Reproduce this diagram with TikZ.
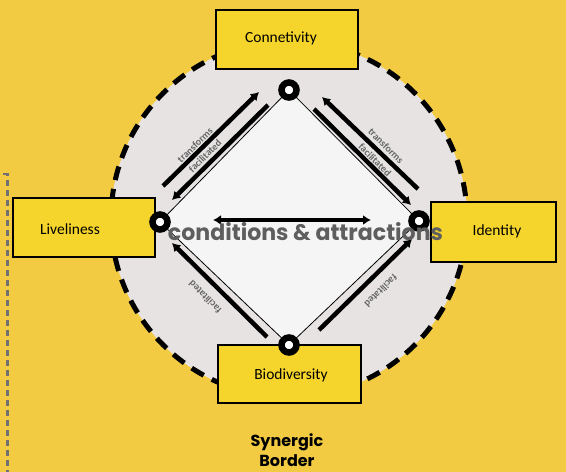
\documentclass[tikz,border=0pt]{standalone}
\usepackage{fontspec}
\setmainfont{Carlito}
\newfontfamily\geofont{Poppins}
\usepackage{xcolor}
\definecolor{bgYellow}{HTML}{F2CB43}
\definecolor{boxYellow}{HTML}{F5D52B}
\definecolor{zoneGray}{HTML}{E7E3E3}
\definecolor{coreFill}{HTML}{F5F5F5}
\definecolor{bigGray}{HTML}{5E5E5E}
\definecolor{tagGray}{HTML}{666666}
\definecolor{edgeGray}{HTML}{707070}
\usepackage{tikz}
\usetikzlibrary{arrows.meta,calc}
\tikzstyle{stage}=[draw=black, line width=2.5pt, fill=boxYellow, inner sep=0pt]
\tikzstyle{stagetext}=[font=\fontsize{15.5}{17}\selectfont, inner sep=0pt]
\tikzstyle{ring}=[circle, draw=black, line width=6.5pt, fill=white, minimum size=15pt, inner sep=0pt]
\tikzstyle{flow}=[line width=4.5pt, -{Latex[length=8pt,width=10pt]}]
\tikzstyle{tag}=[font=\bfseries\fontsize{10}{11}\selectfont, text=tagGray, inner sep=0pt]

\begin{document}
\begin{tikzpicture}[x=1pt,y=-1pt]
        \useasboundingbox[fill=bgYellow] (0,0) rectangle (566,472);
        % border line on the left
        \coordinate (edgeA) at (3,174);
        \coordinate (edgeB) at (7.5,174);
        \coordinate (edgeC) at (7.5,472);
        \draw[edgeGray, line width=2.5pt, dash pattern=on 6pt off 4pt] (edgeA) -- (edgeB) -- (edgeC);
        % zone and core
        \coordinate (hub) at (289,219);
        \draw[fill=zoneGray, line width=5pt, dash pattern=on 14pt off 9pt] (hub) circle[radius=178pt];
        \coordinate (ptop) at (289,90);
        \coordinate (pleft) at (160,222);
        \coordinate (pright) at (419,221);
        \coordinate (pbot) at (289,345);
        \draw[fill=coreFill, line width=0.8pt] (ptop) -- (pright) -- (pbot) -- (pleft) -- cycle;
        % stages
        \node[stage, minimum width=142pt, minimum height=59pt] (connBox) at (287,39.5) {};
        \node[stagetext] (connTxt) at (281,38) {Connetivity};
        \node[stage, minimum width=142pt, minimum height=59pt] (liveBox) at (84,227.5) {};
        \node[stagetext] (liveTxt) at (70,229) {Liveliness};
        \node[stage, minimum width=125pt, minimum height=60pt] (idenBox) at (493.5,232) {};
        \node[stagetext] (idenTxt) at (497,231) {Identity};
        \node[stage, minimum width=143pt, minimum height=58pt] (bioBox) at (289.5,374) {};
        \node[stagetext] (bioTxt) at (291,375) {Biodiversity};
        % corners
        \foreach \n/\p in {vtop/ptop,vleft/pleft,vright/pright,vbot/pbot}{
          \node[ring] (\n) at (\p) {};
        }
        % flows along the edges
        \coordinate (tlA) at (163,186);   \coordinate (tlB) at (259,92);
        \coordinate (tlC) at (268,105);   \coordinate (tlD) at (172,200);
        \coordinate (trA) at (418,189);   \coordinate (trB) at (322,97);
        \coordinate (trC) at (314,109);   \coordinate (trD) at (411,205);
        \coordinate (blA) at (267,337);   \coordinate (blB) at (172,243);
        \coordinate (brA) at (319,330);   \coordinate (brB) at (412,239);
        \draw[flow] (tlA) -- (tlB);
        \draw[flow] (tlC) -- (tlD);
        \draw[flow] (trA) -- (trB);
        \draw[flow] (trC) -- (trD);
        \draw[flow] (blA) -- (blB);
        \draw[flow] (brA) -- (brB);
        \node[tag, rotate=45] (tlTop) at (195,145) {transforms};
        \node[tag, rotate=45] (tlLow) at (205,156) {facilitated};
        \node[tag, rotate=-45] (trTop) at (386,146) {transforms};
        \node[tag, rotate=-45] (trLow) at (375,160) {facilitated};
        \node[tag, rotate=135] (blLow) at (205,297) {facilitated};
        \node[tag, rotate=-135] (brLow) at (381,291) {facilitated};
        % middle
        \coordinate (midL) at (213,220);
        \coordinate (midR) at (371,220);
        \draw[line width=4.5pt, {Latex[length=8pt,width=10pt]}-{Latex[length=8pt,width=10pt]}] (midL) -- (midR);
        \node[anchor=base, inner sep=0pt, text=bigGray] (motto) at (305.5,240)
          {\resizebox{275pt}{18pt}{\geofont\bfseries conditions \& attractions}};
        \node[font=\geofont\bfseries\fontsize{16}{20}\selectfont, align=center] (title) at (287,450) {Synergic\\Border};
      \end{tikzpicture}
\end{document}
